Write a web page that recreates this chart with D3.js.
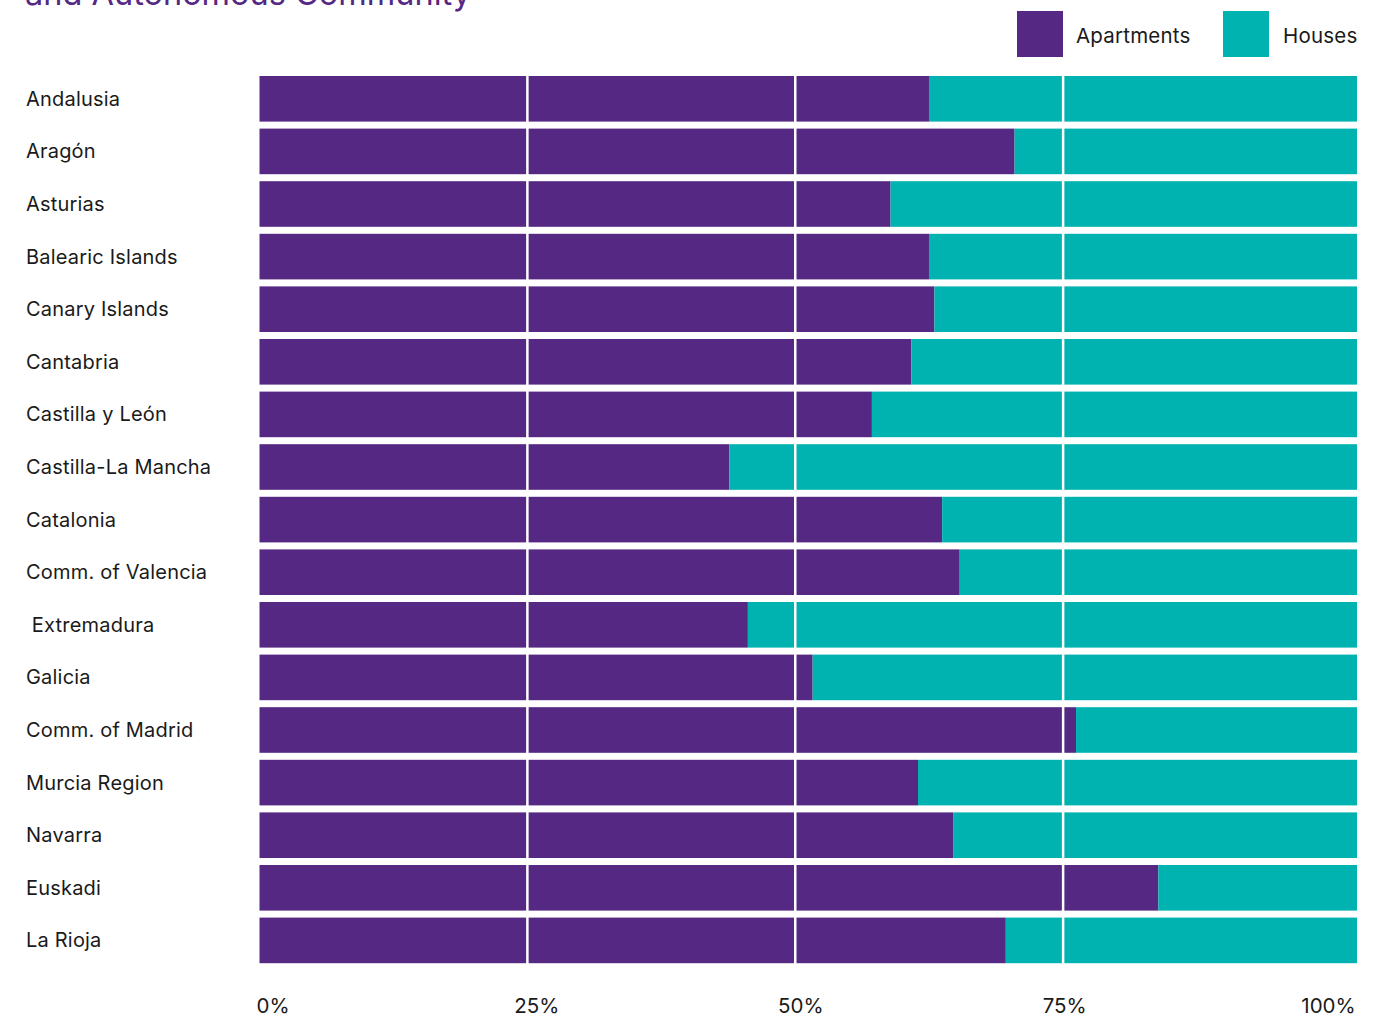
<!DOCTYPE html>
<html>
<head>
<meta charset="utf-8">
<script src="https://cdn.jsdelivr.net/npm/d3@7"></script>
<style>
  body { margin: 0; background: #fff; }
  svg { display: block; }
  text { font-family: Inter, "Noto Sans", sans-serif; }
</style>
</head>
<body>
<div id="chart"></div>
<script>
// data
const regions = [
  "Andalusia", "Aragón", "Asturias", "Balearic Islands", "Canary Islands",
  "Cantabria", "Castilla y León", "Castilla-La Mancha", "Catalonia",
  "Comm. of Valencia", " Extremadura", "Galicia", "Comm. of Madrid",
  "Murcia Region", "Navarra", "Euskadi", "La Rioja"
];
const apartments = [61.0, 68.8, 57.5, 61.0, 61.5, 59.4, 55.8, 42.8, 62.2, 63.8, 44.5, 50.4, 74.4, 60.0, 63.2, 81.9, 68.0];
const houses = apartments.map(v => 100 - v);
const seriesNames = ["Apartments", "Houses"];
const tickValues = [0, 25, 50, 75, 100];

const W = 1396, H = 1016;
const purple = "#542883", teal = "#00b3b0";

const svg = d3.select("#chart").append("svg")
  .attr("width", W).attr("height", H);

// title, cut off at the top like in the source
svg.append("text")
  .attr("x", 25).attr("y", 5)
  .attr("fill", purple)
  .style("font-size", "32.5px")
  .text("and Autonomous Community");

const x = d3.scaleLinear().domain([0, 100]).range([259.5, 1357]);
const xGrid = d3.scaleLinear().domain([0, 100]).range([259.5, 1331]);
const xLabel = d3.scaleLinear().domain([0, 100]).range([273, 1328.5]);
const y = d3.scaleBand().domain(regions).range([76, 963.2])
  .paddingInner(0.133).paddingOuter(0);
const color = d3.scaleOrdinal().domain(seriesNames).range([purple, teal]);

const rows = regions.map((r, i) => ({ region: r, Apartments: apartments[i], Houses: houses[i] }));
const stacked = d3.stack().keys(seriesNames)(rows);

svg.append("g").selectAll("g")
  .data(stacked).enter().append("g")
  .attr("fill", d => color(d.key))
  .selectAll("rect")
  .data(d => d).enter().append("rect")
  .attr("x", d => x(d[0]))
  .attr("y", d => y(d.data.region))
  .attr("width", d => x(d[1]) - x(d[0]))
  .attr("height", y.bandwidth());

// white grid lines over bars
svg.append("g").selectAll("line")
  .data(tickValues.slice(1, 4)).enter().append("line")
  .attr("x1", d => xGrid(d)).attr("x2", d => xGrid(d))
  .attr("y1", 70).attr("y2", 970)
  .attr("stroke", "#fff").attr("stroke-width", 2.5);

// region labels
svg.append("g").selectAll("text")
  .data(regions).enter().append("text")
  .attr("x", 26)
  .attr("y", d => y(d) + y.bandwidth() / 2 + 7)
  .attr("fill", "#1a1a1a")
  .style("font-size", "20px")
  .style("letter-spacing", "0.2px")
  .style("white-space", "pre")
  .text(d => d);

// tick labels
svg.append("g").selectAll("text")
  .data(tickValues).enter().append("text")
  .attr("x", d => xLabel(d))
  .attr("y", 1012.5)
  .attr("text-anchor", "middle")
  .attr("fill", "#1a1a1a")
  .style("font-size", "20.5px")
  .text(d => d + "%");

// legend
const legend = svg.append("g").selectAll("g")
  .data(seriesNames).enter().append("g")
  .attr("transform", (d, i) => `translate(${[1017, 1223][i]},11)`);
legend.append("rect")
  .attr("width", 46).attr("height", 46)
  .attr("fill", d => color(d));
legend.append("text")
  .attr("x", (d, i) => [59, 60][i]).attr("y", 32)
  .attr("fill", "#1a1a1a")
  .style("font-size", "20.5px")
  .style("letter-spacing", "0.2px")
  .text(d => d);
</script>
</body>
</html>
